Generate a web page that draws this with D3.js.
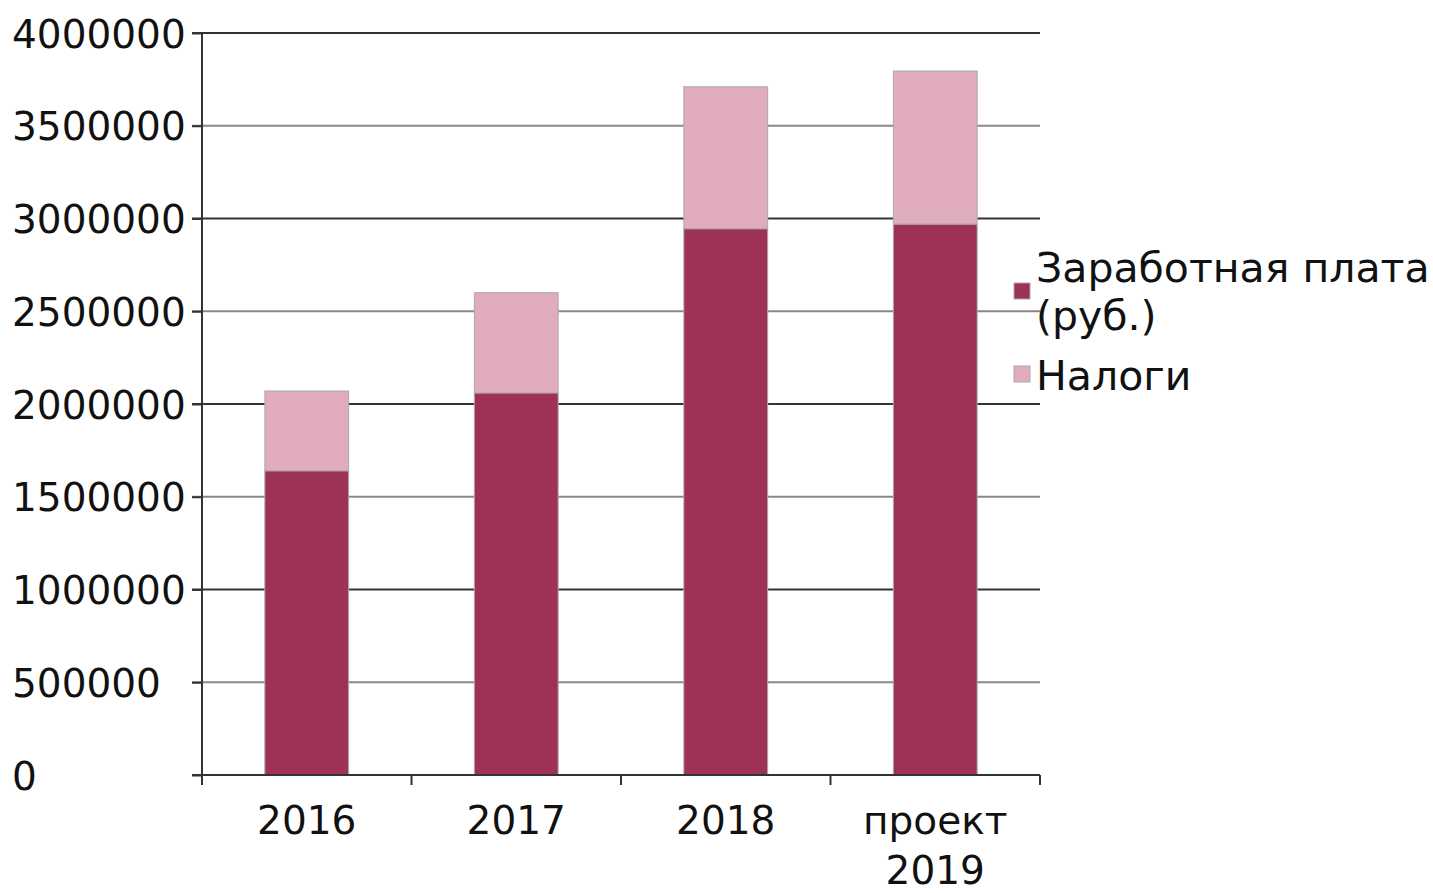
<!DOCTYPE html>
<html>
<head>
<meta charset="utf-8">
<script src="https://cdn.jsdelivr.net/npm/d3@7"></script>
<style>
  body { margin: 0; background: #fff; }
  text { font-family: "DejaVu Sans", sans-serif; fill: #111; }
</style>
</head>
<body>
<div id="chart"></div>
<script>
var categories = ["2016", "2017", "2018", "проект 2019"];
var salary = [1640000, 2060000, 2945000, 2970000];
var taxes = [430000, 540000, 765000, 825000];
var seriesNames = ["Заработная плата (руб.)", "Налоги"];
var yTicks = [0, 500000, 1000000, 1500000, 2000000, 2500000, 3000000, 3500000, 4000000];

var colors = ["#9e3158", "#e0abbd"];

var margin = {top: 33, left: 202, right: 393, bottom: 118};
var W = 1433, H = 893;
var w = W - margin.left - margin.right;
var h = H - margin.top - margin.bottom;

var svg = d3.select("#chart").append("svg")
    .attr("width", W)
    .attr("height", H)
    .append("g")
    .attr("transform", "translate(" + margin.left + "," + margin.top + ")");

var x = d3.scaleBand().domain(categories).range([0, w])
    .paddingInner(0.6).paddingOuter(0.3);
var y = d3.scaleLinear().domain([0, 4000000]).range([h, 0]);

var rows = categories.map(function(c, i) {
    return {cat: c, salary: salary[i], taxes: taxes[i]};
});
var stack = d3.stack().keys(["salary", "taxes"])(rows);

// gridlines
svg.selectAll(".grid")
    .data(yTicks.filter(function(d) { return d > 0; }))
    .enter().append("line")
    .attr("x1", -10)
    .attr("x2", w)
    .attr("y1", function(d) { return y(d); })
    .attr("y2", function(d) { return y(d); })
    .style("stroke", function(d) { return d % 1000000 === 0 ? "#333" : "#888"; })
    .style("stroke-width", 2);

// bars
svg.selectAll(".layer")
    .data(stack)
    .enter().append("g")
    .attr("class", "layer")
    .style("fill", function(d, i) { return colors[i]; })
    .selectAll("rect")
    .data(function(d) { return d; })
    .enter().append("rect")
    .attr("x", function(d) { return x(d.data.cat); })
    .attr("width", x.bandwidth())
    .attr("y", function(d) { return y(d[1]); })
    .attr("height", function(d) { return y(d[0]) - y(d[1]); })
    .style("stroke", "#aaa")
    .style("stroke-width", 1);

// y axis (labels left aligned like the original)
var yAxis = d3.axisLeft(y).tickValues(yTicks).tickSize(10).tickPadding(4)
    .tickFormat(d3.format("d"));
var gy = svg.append("g").call(yAxis);
gy.select(".domain").remove();
gy.append("line").attr("x1", 0).attr("x2", 0).attr("y1", 0).attr("y2", h)
    .style("stroke", "#333").style("stroke-width", 2);
gy.selectAll(".tick line").style("stroke", "#333").style("stroke-width", 2);
gy.selectAll(".tick text")
    .style("font-size", "39px")
    .style("font-family", "DejaVu Sans")
    .attr("fill", "#111")
    .attr("text-anchor", "start")
    .attr("x", 12 - margin.left)
    .attr("dy", "0.36em");

// x axis
var gx = svg.append("g").attr("transform", "translate(0," + h + ")");
gx.append("line").attr("x1", -10).attr("x2", w).attr("y1", 0).attr("y2", 0)
    .style("stroke", "#333").style("stroke-width", 2);
var bounds = categories.map(function(c, i) { return i * x.step(); }).concat([w]);
gx.selectAll(".xt").data(bounds).enter().append("line")
    .attr("x1", function(d) { return d; })
    .attr("x2", function(d) { return d; })
    .attr("y1", 0).attr("y2", 10)
    .style("stroke", "#333").style("stroke-width", 2);
gx.selectAll(".xl").data(categories).enter().append("text")
    .attr("text-anchor", "middle")
    .style("font-size", "39px")
    .attr("x", function(d) { return x(d) + x.bandwidth() / 2; })
    .attr("y", 59)
    .each(function(d) {
        var parts = d.split(" ");
        var t = d3.select(this);
        parts.forEach(function(p, i) {
            t.append("tspan")
                .attr("x", x(d) + x.bandwidth() / 2)
                .attr("dy", i === 0 ? 0 : 50)
                .text(p);
        });
    });

// legend
var legend = svg.append("g").attr("transform", "translate(" + (w - 26) + ",0)");
var legendRows = [
    {name: seriesNames[0], lines: ["Заработная плата", "(руб.)"], sy: 250, ty: 249},
    {name: seriesNames[1], lines: ["Налоги"], sy: 333, ty: 357}
];
legendRows.forEach(function(r, i) {
    legend.append("rect")
        .attr("x", 0).attr("y", r.sy).attr("width", 16).attr("height", 16)
        .style("fill", colors[i])
        .style("stroke", "#aaa").style("stroke-width", 1);
    var t = legend.append("text")
        .style("font-size", "41px")
        .attr("x", 22).attr("y", r.ty);
    r.lines.forEach(function(l, j) {
        t.append("tspan").attr("x", 22).attr("dy", j === 0 ? 0 : 48).text(l);
    });
});
</script>
</body>
</html>
